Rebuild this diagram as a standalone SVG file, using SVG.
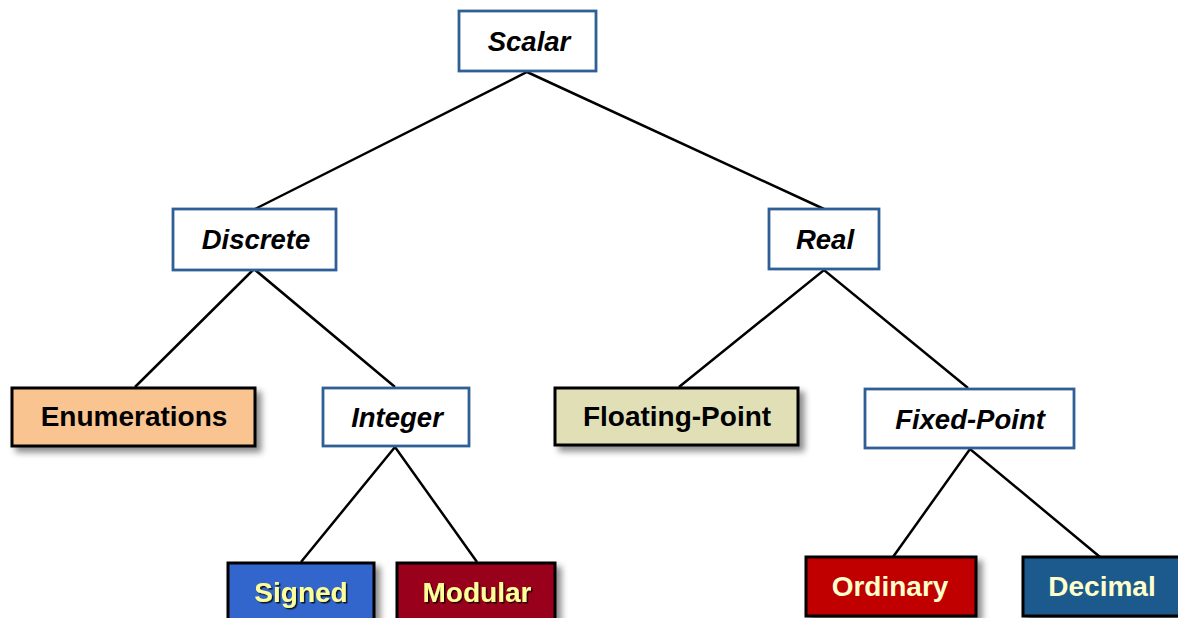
<svg xmlns="http://www.w3.org/2000/svg" width="1178" height="618" viewBox="0 0 1178 618">
<defs>
<filter id="sh" x="-10%" y="-20%" width="130%" height="160%">
<feDropShadow dx="5" dy="5" stdDeviation="3" flood-color="#000" flood-opacity="0.45"/>
</filter>
<filter id="tsh" x="-10%" y="-20%" width="130%" height="160%">
<feDropShadow dx="1.5" dy="1.5" stdDeviation="0.6" flood-color="#000" flood-opacity="0.8"/>
</filter>
</defs>
<style>
.w{fill:#fff;stroke:#2F5F96;stroke-width:2.8}
.c{stroke:#000;stroke-width:3;filter:url(#sh)}
.ti{font-family:"Liberation Sans",Arial,sans-serif;font-size:27.5px;font-weight:bold;font-style:italic;fill:#000;text-anchor:middle}
.tb{font-family:"Liberation Sans",Arial,sans-serif;font-size:28px;font-weight:bold;fill:#000;text-anchor:middle}
.ty{fill:#FFFF99;filter:url(#tsh)}
.tc{fill:#FFFFCC}
.ln{stroke:#000;stroke-width:2.5;fill:none}
</style>
<g id="connectors">
<path class="ln" d="M255,209 L527,72 L824,209"/>
<path class="ln" d="M135,387 L254,269 L395,387"/>
<path class="ln" d="M679,387 L824,270 L968,388"/>
<path class="ln" d="M301,562 L395,447 L477,562"/>
<path class="ln" d="M893,557 L970,449 L1100,557"/>
</g>
<g id="scalar"><rect class="w" x="459" y="11" width="137" height="60"/><text class="ti" x="529" y="51">Scalar</text></g>
<g id="discrete"><rect class="w" x="173" y="209" width="163" height="61"/><text class="ti" x="256" y="249">Discrete</text></g>
<g id="real"><rect class="w" x="769" y="209" width="110" height="60"/><text class="ti" x="825" y="249">Real</text></g>
<g id="enumerations"><rect class="c" x="12" y="388" width="243" height="58" fill="#FAC491"/><text class="tb" x="134" y="426">Enumerations</text></g>
<g id="integer"><rect class="w" x="323" y="388" width="146" height="58"/><text class="ti" x="397" y="427">Integer</text></g>
<g id="floating-point"><rect class="c" x="555" y="388" width="243" height="57" fill="#E0DFB6"/><text class="tb" x="677" y="426">Floating-Point</text></g>
<g id="fixed-point"><rect class="w" x="865" y="389" width="209" height="59"/><text class="ti" x="970" y="429">Fixed-Point</text></g>
<g id="signed"><rect class="c" x="228" y="563" width="146" height="62" fill="#3366CC"/><text class="tb ty" x="301" y="602">Signed</text></g>
<g id="modular"><rect class="c" x="397" y="563" width="158" height="62" fill="#99001F"/><text class="tb ty" x="477" y="602">Modular</text></g>
<g id="ordinary"><rect class="c" x="806" y="557" width="170" height="59" fill="#C00000"/><text class="tb tc" x="890" y="596">Ordinary</text></g>
<g id="decimal"><rect class="c" x="1023" y="557" width="160" height="59" fill="#1D5A8E"/><text class="tb tc" x="1102" y="596">Decimal</text></g>
</svg>
